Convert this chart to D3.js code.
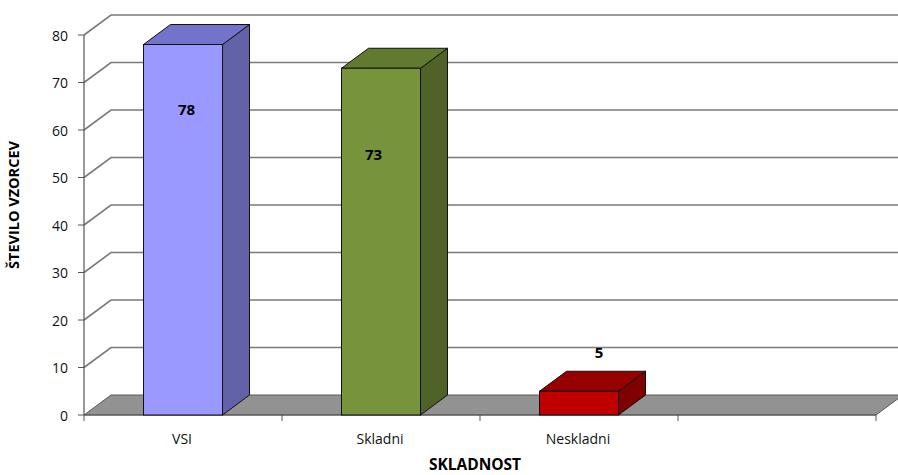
<!DOCTYPE html>
<html>
<head>
<meta charset="utf-8">
<script src="https://cdn.jsdelivr.net/npm/d3@7"></script>
<style>
body { margin: 0; background: #fff; }
svg { display: block; font-family: "Open Sans", "Liberation Sans", sans-serif; }
</style>
</head>
<body>
<svg width="898" height="475"></svg>
<script>
var categories = ["VSI", "Skladni", "Neskladni", ""]
var values = [78, 73, 5]
var yTicks = [0, 10, 20, 30, 40, 50, 60, 70, 80]

// colours: front, side, top
var faces = [
    ["#9999ff", "#6262a8", "#7373cc"],
    ["#77933c", "#4f6228", "#627a30"],
    ["#c00000", "#7e0000", "#960000"]
]
// data label nudges (Excel 3D puts them oddly)
var labelShift = [[3.5, 70], [-7.5, 92], [20, -33]]

var svg = d3.select("svg")
var dx = 27, dy = -20

var y = d3.scaleLinear().domain([0, 80]).range([415, 35])
var x = d3.scaleBand().domain(categories).range([84, 876])

// back wall grid lines
var grid = svg.append("g")
yTicks.slice(1).forEach(function(v){
    grid.append("path")
        .attr("d", "M84," + y(v) + "L" + (84 + dx) + "," + (y(v) + dy) + "L898," + (y(v) + dy))
        .attr("fill", "none")
        .attr("stroke", "#7a7a7a")
        .attr("stroke-width", 1.6)
})

// floor
svg.append("path")
    .attr("d", "M84,415L876,415L" + (876 + dx) + "," + (415 + dy) + "L" + (84 + dx) + "," + (415 + dy) + "Z")
    .attr("fill", "#929292")
    .attr("stroke", "#5a5a5a")
    .attr("stroke-width", 1)

// y axis
svg.append("line").attr("x1", 84).attr("x2", 84).attr("y1", y(80)).attr("y2", y(0))
    .attr("stroke", "#555").attr("stroke-width", 1.2)
var yt = svg.append("g").selectAll("g").data(yTicks).enter().append("g")
yt.append("line").attr("x1", 78).attr("x2", 84)
    .attr("y1", function(d){return y(d)}).attr("y2", function(d){return y(d)})
    .attr("stroke", "#555")
yt.append("text").attr("x", 68).attr("y", function(d){return y(d) + 5.5})
    .attr("text-anchor", "end").attr("font-size", 14).attr("fill", "#111")
    .text(function(d){return d})

// x axis line and ticks
svg.append("line").attr("x1", 84).attr("x2", 876).attr("y1", 415).attr("y2", 415)
    .attr("stroke", "#555")
var xt = categories.map(function(c){return x(c)}).concat([876])
svg.append("g").selectAll("line").data(xt).enter().append("line")
    .attr("x1", function(d){return d}).attr("x2", function(d){return d})
    .attr("y1", 415).attr("y2", 421).attr("stroke", "#555")
svg.append("g").selectAll("text").data(categories).enter().append("text")
    .attr("x", function(d){return x(d) + x.bandwidth() / 2 - 1})
    .attr("y", 444)
    .attr("text-anchor", "middle").attr("font-size", 14).attr("fill", "#111")
    .text(function(d){return d})

// 3D bars
var bw = 79
var bars = svg.append("g").selectAll("g").data(values).enter().append("g")
bars.each(function(v, i){
    var g = d3.select(this)
    var x0 = x(categories[i]) + (x.bandwidth() - bw) / 2
    var x1 = x0 + bw
    var yt0 = y(v), yb = y(0)
    g.append("path")
        .attr("d", "M" + x1 + "," + yb + "L" + x1 + "," + yt0 + "L" + (x1 + dx) + "," + (yt0 + dy) + "L" + (x1 + dx) + "," + (yb + dy) + "Z")
        .attr("fill", faces[i][1]).attr("stroke", "#111").attr("stroke-width", 1)
    g.append("path")
        .attr("d", "M" + x0 + "," + yt0 + "L" + x1 + "," + yt0 + "L" + (x1 + dx) + "," + (yt0 + dy) + "L" + (x0 + dx) + "," + (yt0 + dy) + "Z")
        .attr("fill", faces[i][2]).attr("stroke", "#111").attr("stroke-width", 1)
    g.append("rect")
        .attr("x", x0).attr("y", yt0).attr("width", bw).attr("height", yb - yt0)
        .attr("fill", faces[i][0]).attr("stroke", "#111").attr("stroke-width", 1)
    g.append("text")
        .attr("x", x0 + bw / 2 + labelShift[i][0])
        .attr("y", yt0 + labelShift[i][1])
        .attr("text-anchor", "middle").attr("font-size", 15).attr("font-weight", "bold")
        .attr("fill", "#000")
        .text(v)
})

// titles
svg.append("text").attr("x", 475).attr("y", 470).attr("text-anchor", "middle")
    .attr("font-size", 15.5).attr("font-weight", "bold").text("SKLADNOST")
svg.append("text").attr("transform", "translate(19,205) rotate(-90)").attr("text-anchor", "middle")
    .attr("font-size", 14.5).attr("font-weight", "bold").text("ŠTEVILO VZORCEV")
</script>
</body>
</html>
